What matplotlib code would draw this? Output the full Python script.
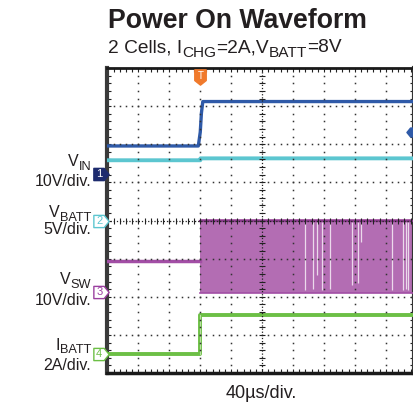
import numpy as np
import matplotlib
matplotlib.use('Agg')
import matplotlib.pyplot as plt
import matplotlib.transforms as mtransforms
from matplotlib.path import Path

plt.rcParams['font.family'] = ['Liberation Sans', 'DejaVu Sans']

# time in microseconds, trigger at 0
vin_t = [-120, -2.5, 0, 1.5, 3.3, 276.5]
vin_v = [7.35, 7.35, 11.0, 16.0, 19.0, 19.0]

vbatt_t = [-120, 0, 0.3, 276.5]
vbatt_v = [7.9, 7.9, 8.15, 8.15]

vsw_pre_t = [-120, 0]
vsw_pre_v = [8.2, 8.2]
vsw_band_t = [0, 276.5]
vsw_high = 19.2
vsw_low = -0.2
vsw_gap_t = [135.7, 145.6, 151.2, 157.7, 168.0, 196.0, 204.3, 208.2, 247.9, 262.5, 266.4, 269.0]
vsw_gap_bottom = [0.4, 0.8, 4.5, 0.6, 0.8, 1.8, 2.4, 13.0, 0.4, 0.4, 0.8, 0.5]

ibatt_t = [-120, 0, 0, 276.5]
ibatt_i = [0, 0, 2.05, 2.05]

trig_level = 11.1  # V on channel 1

# channel zero positions (divisions) and volts per division
ch_offset = {1: 5.22, 2: 4.0, 3: 2.13, 4: 0.5}
ch_scale = {1: 10, 2: 5, 3: 10, 4: 2}

C_VIN = '#2f5aa8'
C_VIN_MK = '#1d2b6e'
C_VBATT = '#5cc6d0'
C_VSW = '#b36db3'
C_VSW_LINE = '#a24ea5'
C_IBATT = '#6cbf45'
C_TRIG = '#f07a2c'
TXT = '#231f20'

W, H = 414, 404


def pos(vals, ch):
    return ch_offset[ch] + np.asarray(vals, dtype=float) / ch_scale[ch]


def rich(fig, x, y, parts, size, align='left'):
    # draw text pieces with larger, lowered subscripts (pixel coords, y from top)
    r = fig.canvas.get_renderer()
    items = []
    for s, sub in parts:
        fs = size * 0.8 if sub else size
        t = fig.text(0, 0, s, fontsize=fs, color=TXT, va='baseline', transform=None)
        items.append((t, sub))
    widths = [t.get_window_extent(r).width for t, _ in items]
    cx = x - sum(widths) if align == 'right' else x
    for (t, sub), w in zip(items, widths):
        dy = size * 100 / 72 * 0.24 if sub else 0
        t.set_position((cx, H - y - dy))
        cx += w


fig = plt.figure(figsize=(W / 100, H / 100), dpi=100)
ax = fig.add_axes([107.5 / W, 1 - 373 / H, (W - 107.5) / W, 305 / H])
ax.set_xlim(-120, 276.5)
ax.set_ylim(0, 8)

# traces
ax.fill_between(vsw_band_t, pos([vsw_low] * 2, 3), pos([vsw_high] * 2, 3),
                color=C_VSW, lw=0, zorder=2)
ax.vlines(vsw_gap_t, pos(vsw_gap_bottom, 3), pos(18.3, 3),
          color='white', lw=0.9, alpha=0.75, zorder=2.5)
ax.plot(vsw_band_t, pos([vsw_high - 0.5] * 2, 3), color='#8a3a8c', lw=1.6, zorder=2.6)
ax.plot(vsw_band_t, pos([vsw_low] * 2, 3), color=C_VSW_LINE, lw=1.2, zorder=2.6)
ax.plot(vsw_pre_t, pos(vsw_pre_v, 3), color=C_VSW_LINE, lw=2.5, zorder=3)

ax.plot(vin_t, pos(vin_v, 1), color=C_VIN, lw=2.4, zorder=3)
ax.plot(vbatt_t, pos(vbatt_v, 2), color=C_VBATT, lw=2.8, zorder=3)
ax.plot(ibatt_t, pos(ibatt_i, 4), color=C_IBATT, lw=2.8, zorder=3)
ax.plot([0, 0], pos([0, 2.05], 4), color='#b5e09c', lw=0.8, zorder=3)

# graticule
dot_kw = dict(ls='none', marker='s', ms=1.1, mew=0, color='#333333', zorder=5)
for i in range(1, 10):
    x = -120 + 40 * i
    if x == 80:
        continue
    ys = np.arange(0.2, 8, 0.2)
    ax.plot([x] * len(ys), ys, **dot_kw)
for j in range(1, 8):
    if j == 4:
        continue
    xs = np.arange(-112, 276, 8)
    ax.plot(xs, [j] * len(xs), **dot_kw)

ax.plot([80, 80], [0, 8], ls=(0, (1, 1.5)), lw=0.9, color='#222222', zorder=5)
ys = np.arange(0.2, 8, 0.2)
ax.plot([80] * len(ys), ys, ls='none', marker='_', ms=5, mew=0.8, color='#222222', zorder=5)
ax.plot([-120, 276.5], [4, 4], ls=(0, (1, 1.5)), lw=0.9, color='#222222', zorder=5)
xs = np.arange(-112, 276, 8)
ax.plot(xs, [4] * len(xs), ls='none', marker='|', ms=5, mew=0.8, color='#222222', zorder=5)

ax.set_xticks(np.arange(-120, 277, 8))
ax.set_yticks(np.arange(0, 8.01, 0.2))
ax.tick_params(direction='in', length=3, width=0.8, colors='#222222',
               top=True, right=True, labelbottom=False, labelleft=False)
ax.spines['left'].set_linewidth(3)
ax.spines['left'].set_color('#3a3a3a')
ax.spines['top'].set_linewidth(2)
ax.spines['top'].set_color('#1a1a1a')
ax.spines['bottom'].set_linewidth(2.5)
ax.spines['bottom'].set_color('#1a1a1a')
ax.spines['right'].set_linewidth(3)
ax.spines['right'].set_color('#333333')

# channel markers
right_arrow = Path([(-1, -0.8), (0.35, -0.8), (1, 0), (0.35, 0.8), (-1, 0.8), (-1, -0.8)],
                   [Path.MOVETO, Path.LINETO, Path.LINETO, Path.LINETO, Path.LINETO, Path.CLOSEPOLY])
left_arrow = Path([(1, -0.8), (-0.35, -0.8), (-1, 0), (-0.35, 0.8), (1, 0.8), (1, -0.8)],
                  [Path.MOVETO, Path.LINETO, Path.LINETO, Path.LINETO, Path.LINETO, Path.CLOSEPOLY])
down_arrow = Path([(-0.75, 1), (0.75, 1), (0.75, -0.4), (0, -1), (-0.75, -0.4), (-0.75, 1)],
                  [Path.MOVETO, Path.LINETO, Path.LINETO, Path.LINETO, Path.LINETO, Path.CLOSEPOLY])

blend = mtransforms.blended_transform_factory(ax.transAxes, ax.transData)
mk_x = -0.022
markers = [(1, C_VIN_MK, C_VIN_MK, 'white'), (2, 'white', C_VBATT, C_VBATT),
           (3, 'white', '#9b3fa0', '#9b3fa0'), (4, 'white', C_IBATT, C_IBATT)]
for ch, fc, ec, tc in markers:
    ax.plot([mk_x], [ch_offset[ch]], marker=right_arrow, ms=11, mfc=fc, mec=ec, mew=1,
            transform=blend, clip_on=False, zorder=6)
    ax.text(mk_x - 0.005, ch_offset[ch], str(ch), transform=blend, fontsize=8,
            color=tc, ha='center', va='center', zorder=7, clip_on=False)

# trigger position and level
ax.plot([0], [7.77], marker=down_arrow, ms=11, mfc=C_TRIG, mec=C_TRIG,
        clip_on=False, zorder=6)
ax.text(0, 7.8, 'T', fontsize=7, color='white', ha='center', va='center', zorder=7)
ax.plot([274], [pos(trig_level, 1)], marker=left_arrow, ms=8, mfc=C_VIN, mec=C_VIN,
        clip_on=False, zorder=6)

# titles and labels
fig.text(108 / W, 1 - 28.5 / H, 'Power On Waveform', fontsize=19.2, fontweight='bold',
         color=TXT, va='baseline')
rich(fig, 108, 52.3, [('2 Cells, I', False), ('CHG', True), ('=2A,V', False),
                      ('BATT', True), ('=8V', False)], 13.8)

rich(fig, 91, 166, [('V', False), ('IN', True)], 11.5, align='right')
rich(fig, 91, 186, [('10V/div.', False)], 11.5, align='right')
rich(fig, 91, 217, [('V', False), ('BATT', True)], 11.5, align='right')
rich(fig, 91, 234.5, [('5V/div.', False)], 11.5, align='right')
rich(fig, 91, 284.5, [('V', False), ('SW', True)], 11.5, align='right')
rich(fig, 91, 305, [('10V/div.', False)], 11.5, align='right')
rich(fig, 91, 349.5, [('I', False), ('BATT', True)], 11.5, align='right')
rich(fig, 91, 369.5, [('2A/div.', False)], 11.5, align='right')

fig.text(261 / W, 1 - 398 / H, '40µs/div.', fontsize=13, color=TXT,
         ha='center', va='baseline')

fig.savefig('out.png', dpi=100)
